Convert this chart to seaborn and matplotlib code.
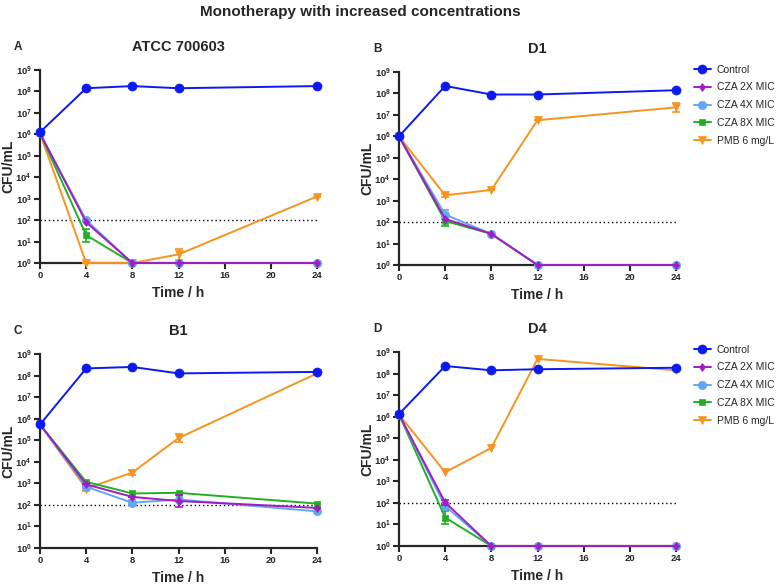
import numpy as np
import matplotlib
matplotlib.use('Agg')
import matplotlib.pyplot as plt
import matplotlib.ticker as mticker
import seaborn as sns

# Sampling times (h)
times = [0, 4, 8, 12, 24]

series_names = ['Control', 'CZA 2X MIC', 'CZA 4X MIC', 'CZA 8X MIC', 'PMB 6 mg/L']

# log10 CFU/mL, one list per series and panel
atcc_control = [6.1, 8.15, 8.25, 8.15, 8.25]
atcc_cza2x = [6.05, 1.9, 0.0, 0.0, 0.0]
atcc_cza4x = [6.05, 2.0, 0.0, 0.0, 0.0]
atcc_cza8x = [6.05, 1.3, 0.0, 0.0, 0.0]
atcc_pmb = [6.05, 0.0, 0.0, 0.4, 3.1]

d1_control = [6.0, 8.35, 7.95, 7.95, 8.15]
d1_cza2x = [6.0, 2.15, 1.45, 0.0, 0.0]
d1_cza4x = [6.0, 2.35, 1.45, 0.0, 0.0]
d1_cza8x = [6.0, 2.05, 1.45, 0.0, 0.0]
d1_pmb = [6.0, 3.25, 3.5, 6.75, 7.35]

b1_control = [5.73, 8.33, 8.4, 8.1, 8.17]
b1_cza2x = [5.73, 2.95, 2.37, 2.18, 1.86]
b1_cza4x = [5.73, 2.84, 2.1, 2.25, 1.7]
b1_cza8x = [5.73, 3.07, 2.53, 2.56, 2.06]
b1_pmb = [5.73, 2.76, 3.5, 5.1, 8.1]

d4_control = [6.12, 8.35, 8.15, 8.2, 8.27]
d4_cza2x = [6.1, 2.02, 0.0, 0.0, 0.0]
d4_cza4x = [6.1, 1.85, 0.0, 0.0, 0.0]
d4_cza8x = [6.1, 1.32, 0.0, 0.0, 0.0]
d4_pmb = [6.1, 3.42, 4.55, 8.68, 8.15]

# visible error bars (log10 units, symmetric)
atcc_err_8x = [0, 0.3, 0, 0, 0]
atcc_err_pmb = [0, 0, 0, 0.25, 0]
d1_err_4x = [0, 0.22, 0, 0, 0]
d1_err_8x = [0, 0.25, 0, 0, 0]
d1_err_pmb = [0, 0.08, 0, 0, 0.2]
b1_err_2x = [0, 0, 0, 0.3, 0]
b1_err_4x = [0, 0, 0.12, 0, 0]
b1_err_pmb = [0, 0.12, 0.1, 0.18, 0]
d4_err_2x = [0, 0.1, 0, 0, 0]
d4_err_8x = [0, 0.3, 0, 0, 0]

panels = [
    ('A', 'ATCC 700603', [atcc_control, atcc_cza2x, atcc_cza4x, atcc_cza8x, atcc_pmb],
     {3: atcc_err_8x, 4: atcc_err_pmb}),
    ('B', 'D1', [d1_control, d1_cza2x, d1_cza4x, d1_cza8x, d1_pmb],
     {2: d1_err_4x, 3: d1_err_8x, 4: d1_err_pmb}),
    ('C', 'B1', [b1_control, b1_cza2x, b1_cza4x, b1_cza8x, b1_pmb],
     {1: b1_err_2x, 2: b1_err_4x, 4: b1_err_pmb}),
    ('D', 'D4', [d4_control, d4_cza2x, d4_cza4x, d4_cza8x, d4_pmb],
     {1: d4_err_2x, 3: d4_err_8x}),
]

colors = ['#0A1AF0', '#A21CC2', '#62A8F0', '#22B022', '#F7931E']
markers = ['o', 'd', 'o', 's', 'v']
msizes = [6.5, 4.5, 6, 4.5, 6]
zorders = [10, 8, 7, 6, 5]

sns.set_style('ticks')
plt.rcParams['font.family'] = ['Liberation Sans', 'DejaVu Sans']
plt.rcParams['mathtext.fontset'] = 'custom'
plt.rcParams['mathtext.bf'] = 'Liberation Sans:bold'
plt.rcParams['mathtext.rm'] = 'Liberation Sans:bold'

fig = plt.figure(figsize=(7.77, 5.85), dpi=100)
W, H = 777, 585

# axes boxes in pixels: left, top, right, bottom
boxes = [(40, 70, 317, 263), (399, 72, 676, 265),
         (40, 354, 317, 548), (399, 352, 676, 546)]


def log_fmt(v, pos):
    e = int(round(np.log10(v)))
    return r'$\mathbf{10^{%d}}$' % e


for (letter, title, vals, errs), (l, t, r, b) in zip(panels, boxes):
    ax = fig.add_axes([l / W, 1 - b / H, (r - l) / W, (b - t) / H])
    for i, name in enumerate(series_names):
        y = 10 ** np.array(vals[i])
        sns.lineplot(x=times, y=y, ax=ax, color=colors[i], marker=markers[i],
                     markersize=msizes[i], markeredgecolor=colors[i],
                     markeredgewidth=0.5, linewidth=1.4, label=name,
                     zorder=zorders[i], clip_on=False, legend=False)
        if i in errs:
            e = np.array(errs[i])
            lv = np.array(vals[i])
            lo = y - 10 ** np.clip(lv - e, 0, None)
            hi = 10 ** (lv + e) - y
            ax.errorbar(times, y, yerr=[lo, hi], fmt='none', ecolor=colors[i],
                        elinewidth=1.2, capsize=3, capthick=1.2,
                        zorder=zorders[i], clip_on=False)

    ax.plot([0, 24], [100, 100], color='black', linestyle=(0, (1, 2)),
            linewidth=1, zorder=2)

    ax.set_yscale('log')
    ax.set_ylim(1, 1e9)
    ax.set_xlim(0, 24)
    ax.set_xticks([0, 4, 8, 12, 16, 20, 24])
    ax.yaxis.set_major_locator(mticker.LogLocator(base=10, numticks=12))
    ax.yaxis.set_major_formatter(mticker.FuncFormatter(log_fmt))
    ax.yaxis.set_minor_locator(mticker.NullLocator())
    ax.tick_params(axis='both', direction='out', length=4, width=1.5,
                   labelsize=6.8, pad=2)
    for lab in ax.get_xticklabels():
        lab.set_fontweight('bold')
    for s in ['left', 'bottom']:
        ax.spines[s].set_linewidth(1.6)
    sns.despine(ax=ax)

    ax.set_xlabel('Time / h', fontsize=10, fontweight='bold', labelpad=4)
    ax.set_ylabel('CFU/mL', fontsize=10, fontweight='bold', labelpad=0)
    ax.set_title(title, fontsize=10.5, fontweight='bold', pad=14)
    fig.text((l - 22) / W, 1 - (t - 23) / H, letter, fontsize=8.5,
             fontweight='bold', ha='center', va='center')

    if letter in ('B', 'D'):
        ax.legend(loc='upper left', bbox_to_anchor=(1.05, 1.06), frameon=False,
                  fontsize=7.5, handlelength=1.6, handletextpad=0.6,
                  labelspacing=0.75, borderaxespad=0)

fig.text(360 / W, 1 - 12 / H, 'Monotherapy with increased concentrations',
         fontsize=11, fontweight='bold', ha='center', va='center')

fig.savefig('out.png', dpi=100)
